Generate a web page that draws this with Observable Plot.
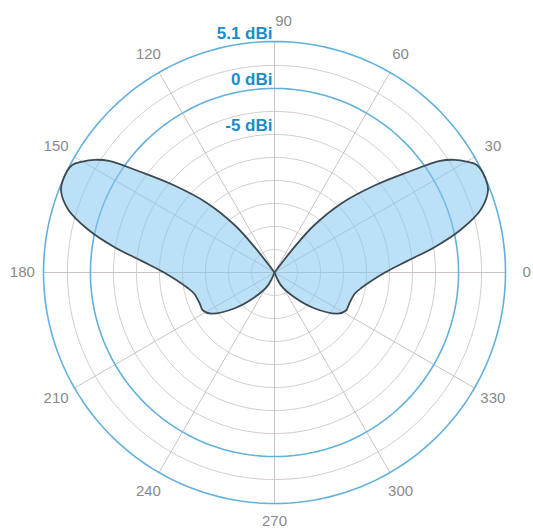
<!DOCTYPE html>
<html><head><meta charset="utf-8">
<script src="https://cdn.jsdelivr.net/npm/d3@7"></script>
<script src="https://cdn.jsdelivr.net/npm/@observablehq/plot@0.6"></script>
<style>html,body{margin:0;padding:0;background:#fff;} svg{display:block}</style>
</head><body><div id="chart"></div>
<script>
// Radiation pattern (gain in dBi vs azimuth angle in degrees)
const rightAngles = [-68,-63,-51,-42,-33,-28,-23,-15,-10,0,5,9,13,17,21,24,28,30,32,34,37,41,46,50,52,54];
const rightGain   = [-20,-18.4,-16.5,-14.2,-11.8,-11.2,-11.2,-11.0,-10.4,-8.0,-5.5,-2.4,0.8,3.45,4.85,5.1,4.9,4.1,3.1,1.7,-1.9,-5.6,-9.6,-13.3,-16.5,-20];
const leftAngles  = [248,243,231,222,213,208,203,195,190,180,175,171,167,163,159,156,152,150,148,146,143,139,134,130,128,126];
const leftGain    = [-20,-18.4,-16.5,-14.2,-11.8,-11.2,-11.2,-11.0,-10.4,-8.0,-5.5,-2.4,0.8,3.45,4.85,5.1,4.9,4.1,3.1,1.7,-1.9,-5.6,-9.6,-13.3,-16.5,-20];

const gridLevels  = [-17.5,-15,-12.5,-10,-7.5,-5,-2.5,2.5];
const blueLevels  = [0, 5.1];
const spokeAngles = [0,30,60,90,120,150,180,210,240,270,300,330];
const angleLabels = ["0","30","60","90","120","150","180","210","240","270","300","330"];
const dbiLevels   = [5.1, 0, -5];
const dbiLabels   = ["5.1 dBi","0 dBi","-5 dBi"];

const FLOOR = -20;
const R = 5.1 - FLOOR;
const rad = d => d * Math.PI / 180;
const cx = (a, r) => r * Math.cos(rad(a));
const cy = (a, r) => r * Math.sin(rad(a));

const pattern = [
  ...rightAngles.map((a, i) => ({lobe: "right", a, r: Math.max(0, rightGain[i] - FLOOR)})),
  ...leftAngles.map((a, i) => ({lobe: "left", a, r: Math.max(0, leftGain[i] - FLOOR)}))
];

function ringRows(levels) {
  const rows = [];
  for (const L of levels) for (let a = 0; a <= 360; a += 2) rows.push({L, a, r: L - FLOOR});
  return rows;
}
const greyRings = ringRows(gridLevels);
const blueRings = ringRows(blueLevels);
const spokes = spokeAngles.map(a => ({a}));
const labelR = 27.4;
const angLab = spokeAngles.map((a, i) => ({a, t: angleLabels[i]}));
const dbi = dbiLevels.map((L, i) => ({L, t: dbiLabels[i]}));

const chart = Plot.plot({
  width: 533, height: 530, margin: 0,
  x: {domain: [-R, R], range: [43, 505], axis: null},
  y: {domain: [-R, R], range: [503, 41], axis: null},
  style: {fontFamily: "Liberation Sans, Arial, Helvetica, sans-serif", background: "white"},
  marks: [
    Plot.line(greyRings, {x: d => cx(d.a, d.r), y: d => cy(d.a, d.r), z: "L", stroke: "#d6cccc", strokeWidth: 1}),
    Plot.link(spokes, {x1: 0, y1: 0, x2: d => cx(d.a, R), y2: d => cy(d.a, R), stroke: "#cbc3c3", strokeWidth: 1}),
    Plot.line(blueRings, {x: d => cx(d.a, d.r), y: d => cy(d.a, d.r), z: "L", stroke: "#62b1dc", strokeWidth: 1.6}),
    Plot.line(pattern, {x: d => cx(d.a, d.r), y: d => cy(d.a, d.r), z: "lobe", curve: "catmull-rom",
      fill: "#85c7ef", fillOpacity: 0.55, stroke: "#3d4a52", strokeWidth: 1.8}),
    Plot.text(angLab.filter(d => d.a !== 270 && d.a !== 90), {x: d => cx(d.a, labelR), y: d => cy(d.a, labelR), text: "t", fill: "#8a8a8a", fontSize: 15}),
    Plot.text(angLab.filter(d => d.a === 270), {x: d => cx(d.a, labelR), y: d => cy(d.a, labelR), text: "t", fill: "#8a8a8a", fontSize: 15, dy: -3}),
    Plot.text(angLab.filter(d => d.a === 90), {x: d => cx(d.a, labelR), y: d => cy(d.a, labelR), text: "t", fill: "#8a8a8a", fontSize: 15, dx: 9, dy: 1}),
    Plot.text(dbi, {x: 0, y: d => d.L - FLOOR, text: "t", textAnchor: "end", lineAnchor: "bottom", dx: -2, dy: -3,
      fill: "#1a8ccc", fontWeight: "bold", fontSize: 17})
  ]
});
document.getElementById("chart").appendChild(chart);
</script>
</body></html>
